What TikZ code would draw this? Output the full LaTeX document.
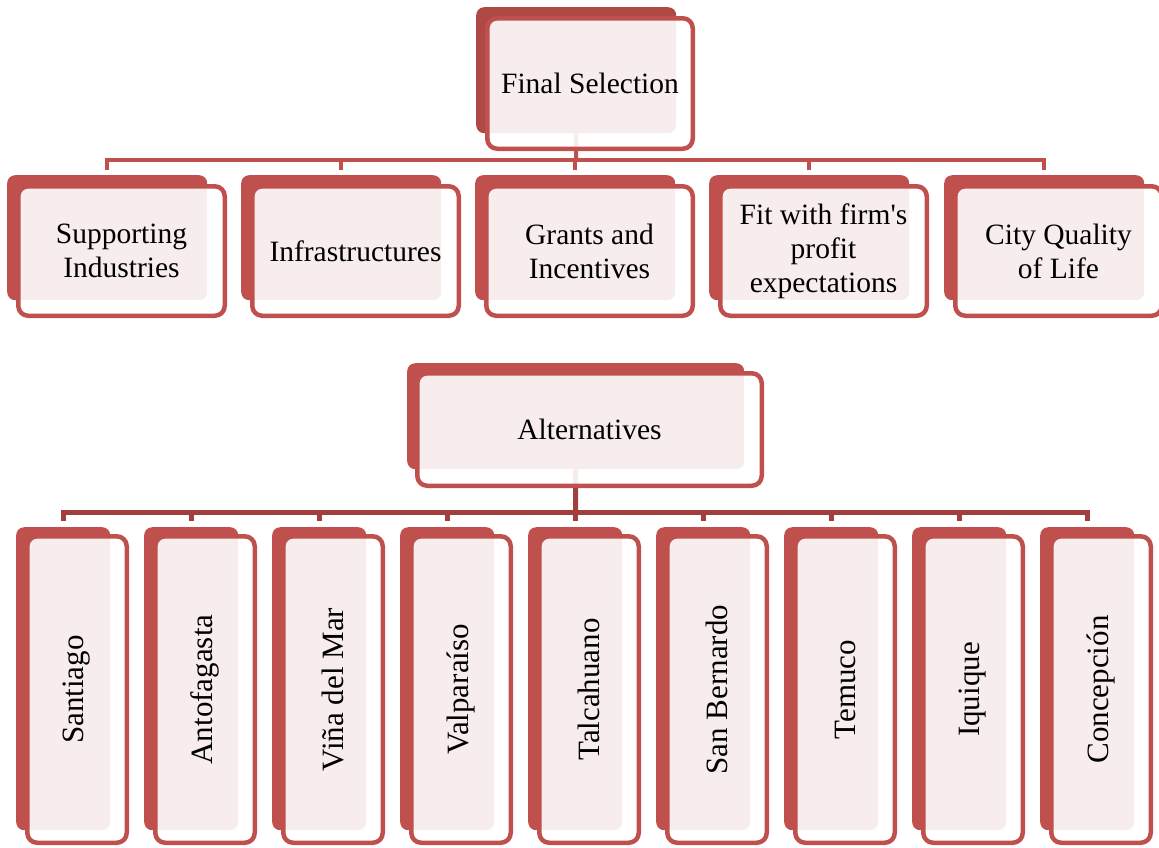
\documentclass[tikz,border=0pt]{standalone}
\usepackage{fontspec}
\setmainfont{Liberation Serif}
\usetikzlibrary{backgrounds}

\definecolor{boxred}{RGB}{192,80,77}
\definecolor{darkred}{RGB}{174,73,70}
\definecolor{linkred}{RGB}{160,63,61}

\tikzset{
  back/.style={fill=boxred, rounded corners=8pt, inner sep=0pt, anchor=north west},
  front/.style={draw=boxred, line width=4.5pt, fill=white, fill opacity=0.9,
    text opacity=1, rounded corners=10pt, inner sep=0pt, anchor=north west, align=center},
  tback/.style={back, minimum width=200pt, minimum height=125pt},
  tfront/.style={front, font=\fontsize{29.5}{34}\selectfont, minimum width=206.5pt, minimum height=129.5pt},
  bback/.style={back, minimum width=94pt, minimum height=303pt},
  bfront/.style={front, font=\fontsize{31}{34}\selectfont, minimum width=99.5pt, minimum height=306.5pt},
  tlink/.style={draw=boxred, line width=4pt},
  blink/.style={draw=linkred, line width=5pt}
}

\begin{document}
\begin{tikzpicture}[x=1pt,y=-1pt]
\useasboundingbox (0,0) rectangle (1159,847);

% criteria
\node[back, fill=darkred, minimum width=200pt, minimum height=126pt] (fs-b) at (476,7) {};
\node[front, font=\fontsize{29.5}{34}\selectfont, minimum width=205.5pt, minimum height=130.5pt] (fs) at (485,16) {Final Selection};

\node[tback] (si-b) at (7,175) {};
\node[tback] (inf-b) at (241,175) {};
\node[tback] (gi-b) at (475,175) {};
\node[tback] (fit-b) at (709,175) {};
\node[tback] (cql-b) at (944,175) {};

\node[tfront] (si) at (16,184) {Supporting\\Industries};
\node[tfront] (inf) at (250,184) {Infrastructures};
\node[tfront] (gi) at (484,184) {Grants and\\Incentives};
\node[tfront] (fit) at (718,184) {Fit with firm\textquotesingle s\\profit\\expectations};
\node[tfront] (cql) at (953,184) {City Quality\\of Life};

% alternatives
\node[back, minimum width=337pt, minimum height=106pt] (alt-b) at (407,363) {};
\node[front, font=\fontsize{29.5}{34}\selectfont, minimum width=344.5pt, minimum height=112.5pt] (alt) at (415,371) {Alternatives};

\node[bback] (sant-b) at (16,527) {};
\node[bback] (anto-b) at (144,527) {};
\node[bback] (vina-b) at (272,527) {};
\node[bback] (valp-b) at (400,527) {};
\node[bback] (talc-b) at (528,527) {};
\node[bback] (sber-b) at (656,527) {};
\node[bback] (tem-b) at (784,527) {};
\node[bback] (iqq-b) at (912,527) {};
\node[bback] (conc-b) at (1040,527) {};

\node[bfront] (sant) at (25,534) {\rotatebox{90}{Santiago}};
\node[bfront] (anto) at (153,534) {\rotatebox{90}{Antofagasta}};
\node[bfront] (vina) at (281,534) {\rotatebox{90}{Viña del Mar}};
\node[bfront] (valp) at (409,534) {\rotatebox{90}{Valparaíso}};
\node[bfront] (talc) at (537,534) {\rotatebox{90}{Talcahuano}};
\node[bfront] (sber) at (665,534) {\rotatebox{90}{San Bernardo}};
\node[bfront] (tem) at (793,534) {\rotatebox{90}{Temuco}};
\node[bfront] (iqq) at (921,534) {\rotatebox{90}{Iquique}};
\node[bfront] (conc) at (1049,534) {\rotatebox{90}{Concepción}};

% connectors
\begin{scope}[on background layer]
\coordinate (top-bus) at (576,160);
\draw[tlink] (fs-b.south) -- (top-bus);
\draw[tlink] ([yshift=5pt]si-b.north) |- (top-bus);
\draw[tlink] ([yshift=5pt]inf-b.north) |- (top-bus);
\draw[tlink] ([yshift=5pt]gi-b.north) |- (top-bus);
\draw[tlink] ([yshift=5pt]fit-b.north) |- (top-bus);
\draw[tlink] ([yshift=5pt]cql-b.north) |- (top-bus);

\coordinate (alt-bus) at (575.5,512);
\draw[blink] (alt-b.south) -- (alt-bus);
\draw[blink] ([yshift=6pt]sant-b.north) |- (alt-bus);
\draw[blink] ([yshift=6pt]anto-b.north) |- (alt-bus);
\draw[blink] ([yshift=6pt]vina-b.north) |- (alt-bus);
\draw[blink] ([yshift=6pt]valp-b.north) |- (alt-bus);
\draw[blink] ([yshift=6pt]talc-b.north) |- (alt-bus);
\draw[blink] ([yshift=6pt]sber-b.north) |- (alt-bus);
\draw[blink] ([yshift=6pt]tem-b.north) |- (alt-bus);
\draw[blink] ([yshift=6pt]iqq-b.north) |- (alt-bus);
\draw[blink] ([yshift=6pt]conc-b.north) |- (alt-bus);
\end{scope}
\end{tikzpicture}
\end{document}
